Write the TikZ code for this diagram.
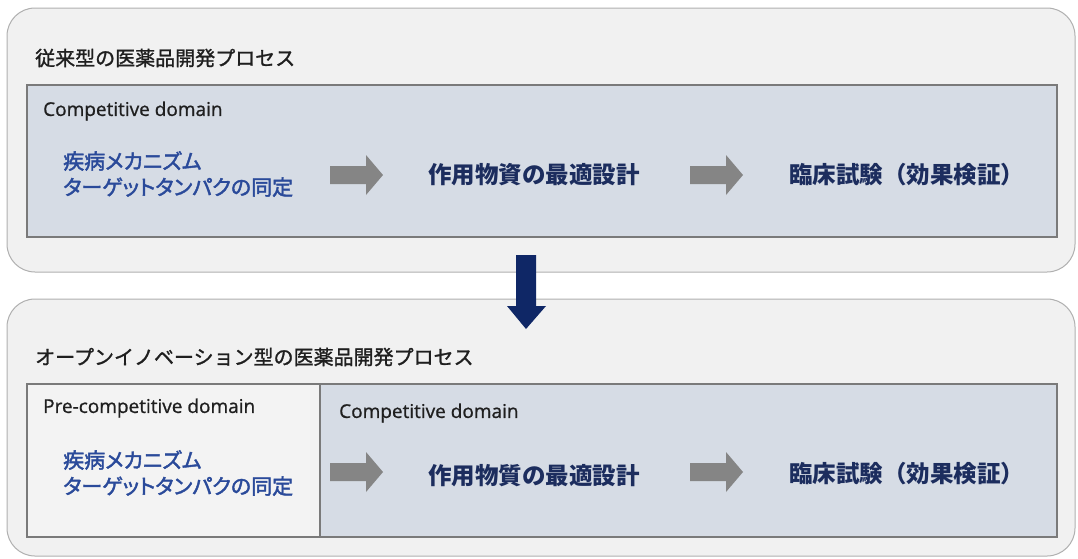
\documentclass[tikz,border=0pt]{standalone}
\usepackage{fontspec}
\setmainfont{Open Sans}
\newfontfamily\latinsemi[FakeBold=0.9]{Open Sans}
\newfontfamily\jp{Noto Sans CJK JP}
\newfontfamily\jpmed[FakeBold=1.3]{Noto Sans CJK JP}
\newfontfamily\jpprop[FakeBold=2,RawFeature=+palt]{Noto Sans CJK JP}
\definecolor{outerfill}{HTML}{F1F1F1}
\definecolor{outerline}{HTML}{B0B0B0}
\definecolor{innerfill}{HTML}{D6DCE5}
\definecolor{innerline}{HTML}{7A7A7A}
\definecolor{prefill}{HTML}{F3F3F3}
\definecolor{steptext}{HTML}{2A4A9A}
\definecolor{navytext}{HTML}{1C2D5E}
\definecolor{darknavy}{HTML}{0F2766}
\definecolor{arrowgray}{HTML}{858585}
\begin{document}
\begin{tikzpicture}[x=1pt,y=-1pt,
  outerbox/.style={fill=outerfill,draw=outerline,line width=1pt,rounded corners=28pt},
  innerbox/.style={fill=innerfill,draw=innerline,line width=1.3pt},
  prebox/.style={fill=prefill,draw=innerline,line width=1.3pt},
  titletext/.style={anchor=west,inner sep=0pt,text=black!88,font=\jpmed\fontsize{20}{24}\selectfont},
  domaintext/.style={anchor=west,inner sep=0pt,text=black!88,font=\latinsemi\fontsize{19}{22}\selectfont},
  lefttext/.style={anchor=west,inner sep=0pt,align=left,text=steptext,font=\jpprop\fontsize{21}{26}\selectfont},
  steptextnode/.style={anchor=west,inner sep=0pt,text=navytext,font=\jp\bfseries\fontsize{23.5}{26}\selectfont},
  grayarrow/.style={fill=arrowgray},
  downarrow/.style={fill=darknavy}
]
\useasboundingbox (0,0) rectangle (1078,558);
\fill[white] (0,0) rectangle (1078,558);

% ---- top box ----
\draw[outerbox] (7,8) rectangle (1075,272);
\node[titletext] (t1) at (35,58) {従来型の医薬品開発プロセス};
\draw[innerbox] (27,85) rectangle (1057,237);
\node[domaintext] (c1) at (43,111) {Competitive domain};
\node[lefttext] (a1) at (63,174) {疾病メカニズム\\ターゲットタンパクの同定};
\node[steptextnode] (b1) at (428,175) {作用物資の最適設計};
\node[steptextnode] (d1) at (789,175) {臨床試験（効果検証）};
\fill[grayarrow] (330,166) -- (366,166) -- (366,155) -- (383,175) -- (366,195) -- (366,184) -- (330,184) -- cycle;
\fill[grayarrow] (690,166) -- (726,166) -- (726,155) -- (743,175) -- (726,195) -- (726,184) -- (690,184) -- cycle;

% ---- bottom box ----
\draw[outerbox] (7,299) rectangle (1075,556);
\node[titletext] (t2) at (35,357) {オープンイノベーション型の医薬品開発プロセス};
\draw[innerbox] (27,384) rectangle (1057,537);
\draw[prebox] (27,384) rectangle (320,537);
\node[domaintext] (p2) at (43,408) {Pre-competitive domain};
\node[domaintext] (c2) at (339,413) {Competitive domain};
\node[lefttext] (a2) at (63,473) {疾病メカニズム\\ターゲットタンパクの同定};
\node[steptextnode] (b2) at (428,476) {作用物質の最適設計};
\node[steptextnode] (d2) at (789,474) {臨床試験（効果検証）};
\fill[grayarrow] (330,463) -- (366,463) -- (366,452) -- (383,472) -- (366,492) -- (366,481) -- (330,481) -- cycle;
\fill[grayarrow] (690,463) -- (726,463) -- (726,452) -- (743,472) -- (726,492) -- (726,481) -- (690,481) -- cycle;

% ---- down arrow (on top of both boxes) ----
\fill[downarrow] (516,255) -- (536,255) -- (536,306) -- (546,306) -- (526,329) -- (507,306) -- (516,306) -- cycle;
\end{tikzpicture}
\end{document}
